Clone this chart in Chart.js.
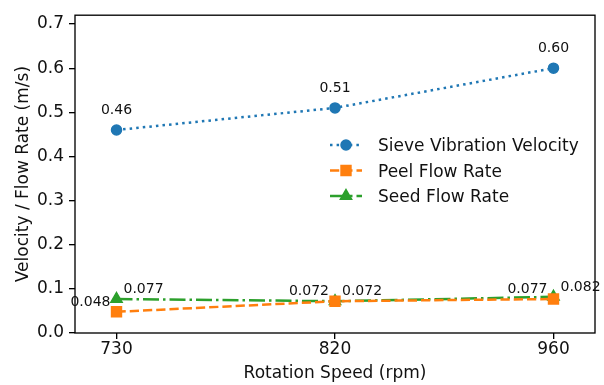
<!DOCTYPE html>
<html><head><meta charset="utf-8">
<script src="https://cdn.jsdelivr.net/npm/chart.js@4.4.0/dist/chart.umd.min.js"></script>
<style>html,body{margin:0;padding:0;background:#fff}#wrap{width:604px;height:385px}</style>
</head><body><div id="wrap"><canvas id="c" width="604" height="385"></canvas></div>
<script>
// ---- data ----
const categories = ['730', '820', '960'];
const sieveVelocity = [0.46, 0.51, 0.60];
const peelFlow = [0.048, 0.072, 0.077];
const seedFlow = [0.077, 0.072, 0.082];
const yTickValues = [0, 0.1, 0.2, 0.3, 0.4, 0.5, 0.6, 0.7];
const seriesNames = ['Sieve Vibration Velocity', 'Peel Flow Rate', 'Seed Flow Rate'];
const xTitle = 'Rotation Speed (rpm)';
const yTitle = 'Velocity / Flow Rate (m/s)';

// ---- styles ----
const BLUE = '#1f77b4', ORANGE = '#ff7f0e', GREEN = '#2ca02c';
const TXT = '#111';
const FONT = '"DejaVu Sans", sans-serif';
const MAIN_SIZE = 17;
const LABEL_SIZE = 14;
const LW = 2.5;
const dashes = [[2.5, 4.1], [9.25, 4], [16, 4, 2.5, 4]];
const colors = [BLUE, ORANGE, GREEN];
const pStyles = ['circle', 'rect', 'triangle'];
const pRadius = [5, 7, 6.5];

const toXY = arr => arr.map((v, i) => ({x: i, y: v}));

function drawMarker(ctx, style, x, y, r, color) {
  ctx.save();
  ctx.fillStyle = color; ctx.strokeStyle = color; ctx.lineWidth = 1.5; ctx.setLineDash([]);
  ctx.beginPath();
  if (style === 'circle') {
    ctx.arc(x, y, r, 0, Math.PI * 2);
  } else if (style === 'rect') {
    const s = r * Math.SQRT1_2;
    ctx.rect(x - s, y - s, 2 * s, 2 * s);
  } else {
    let rad = 0;
    ctx.moveTo(x + Math.sin(rad) * r, y - Math.cos(rad) * r);
    rad += 2 * Math.PI / 3;
    ctx.lineTo(x + Math.sin(rad) * r, y - Math.cos(rad) * r);
    rad += 2 * Math.PI / 3;
    ctx.lineTo(x + Math.sin(rad) * r, y - Math.cos(rad) * r);
    ctx.closePath();
  }
  ctx.fill(); ctx.stroke();
  ctx.restore();
}

const overlay = {
  id: 'overlay',
  afterDatasetsDraw(chart) {
    const {ctx, chartArea: a} = chart;
    ctx.save();
    // spines
    ctx.strokeStyle = '#000'; ctx.lineWidth = 1.33; ctx.setLineDash([]);
    ctx.strokeRect(a.left, a.top, a.right - a.left, a.bottom - a.top);

    // data labels
    ctx.fillStyle = TXT;
    ctx.font = LABEL_SIZE + 'px ' + FONT;
    ctx.textBaseline = 'alphabetic';
    const m0 = chart.getDatasetMeta(0).data;
    ctx.textAlign = 'center';
    m0.forEach((p, i) => ctx.fillText(sieveVelocity[i].toFixed(2), p.x, p.y - 16));
    const m1 = chart.getDatasetMeta(1).data;
    ctx.textAlign = 'right';
    m1.forEach((p, i) => ctx.fillText(peelFlow[i].toFixed(3), p.x - 6, p.y - 6));
    const m2 = chart.getDatasetMeta(2).data;
    ctx.textAlign = 'left';
    m2.forEach((p, i) => ctx.fillText(seedFlow[i].toFixed(3), p.x + 7, p.y - 6));
    ctx.restore();
  },
  afterDraw(chart) {
    const {ctx, chartArea: a} = chart;
    ctx.save();
    // legend
    const rows = [145, 170.5, 196];
    rows.forEach((ry, i) => {
      ctx.save();
      ctx.strokeStyle = colors[i]; ctx.lineWidth = LW; ctx.lineCap = 'butt';
      ctx.setLineDash(dashes[i]);
      ctx.beginPath(); ctx.moveTo(330, ry); ctx.lineTo(362, ry); ctx.stroke();
      ctx.restore();
      drawMarker(ctx, pStyles[i], 346, ry, pRadius[i], colors[i]);
      ctx.fillStyle = TXT; ctx.font = MAIN_SIZE + 'px ' + FONT;
      ctx.textAlign = 'left'; ctx.textBaseline = 'alphabetic';
      ctx.fillText(seriesNames[i], 378, ry + 6);
    });
    // axis titles
    ctx.fillStyle = TXT; ctx.font = MAIN_SIZE + 'px ' + FONT;
    ctx.textAlign = 'center'; ctx.textBaseline = 'alphabetic';
    ctx.fillText(xTitle, (a.left + a.right) / 2, 378);
    ctx.translate(28, (a.top + a.bottom) / 2);
    ctx.rotate(-Math.PI / 2);
    ctx.fillText(yTitle, 0, 0);
    ctx.restore();
  }
};

const mk = (i, data) => ({
  label: seriesNames[i],
  data: toXY(data),
  borderColor: colors[i],
  backgroundColor: colors[i],
  borderWidth: LW,
  borderDash: dashes[i],
  borderCapStyle: 'butt',
  pointStyle: pStyles[i],
  pointRadius: pRadius[i],
  pointBorderWidth: 1.5,
  pointBackgroundColor: colors[i],
  pointBorderColor: colors[i],
  pointHoverRadius: pRadius[i],
  tension: 0,
  fill: false
});

new Chart(document.getElementById('c'), {
  type: 'line',
  data: {
    datasets: [mk(0, sieveVelocity), mk(1, peelFlow), mk(2, seedFlow)]
  },
  options: {
    responsive: false,
    animation: false,
    devicePixelRatio: 1,
    layout: {padding: {left: 0, top: 10, right: 9, bottom: 0}},
    plugins: {legend: {display: false}, tooltip: {enabled: false}},
    scales: {
      x: {
        type: 'linear',
        min: -0.19, max: 2.19,
        afterBuildTicks: s => { s.ticks = categories.map((c, i) => ({value: i})); },
        afterFit: s => { s.height = 52; },
        border: {display: false},
        grid: {drawOnChartArea: false, drawTicks: true, tickLength: 6, color: '#000', lineWidth: 1.33},
        ticks: {
          callback: v => categories[v],
          font: {family: FONT, size: MAIN_SIZE}, color: TXT, padding: 0, maxRotation: 0
        },
        title: {display: false}
      },
      y: {
        type: 'linear',
        min: 0, max: 0.72,
        afterBuildTicks: s => { s.ticks = yTickValues.map(v => ({value: v})); },
        afterFit: s => { s.width = 75; },
        border: {display: false},
        grid: {drawOnChartArea: false, drawTicks: true, tickLength: 6, color: '#000', lineWidth: 1.33},
        ticks: {
          callback: v => Number(v).toFixed(1),
          font: {family: FONT, size: MAIN_SIZE}, color: TXT, padding: 5
        },
        title: {display: false}
      }
    }
  },
  plugins: [overlay]
});
</script>
</body></html>
